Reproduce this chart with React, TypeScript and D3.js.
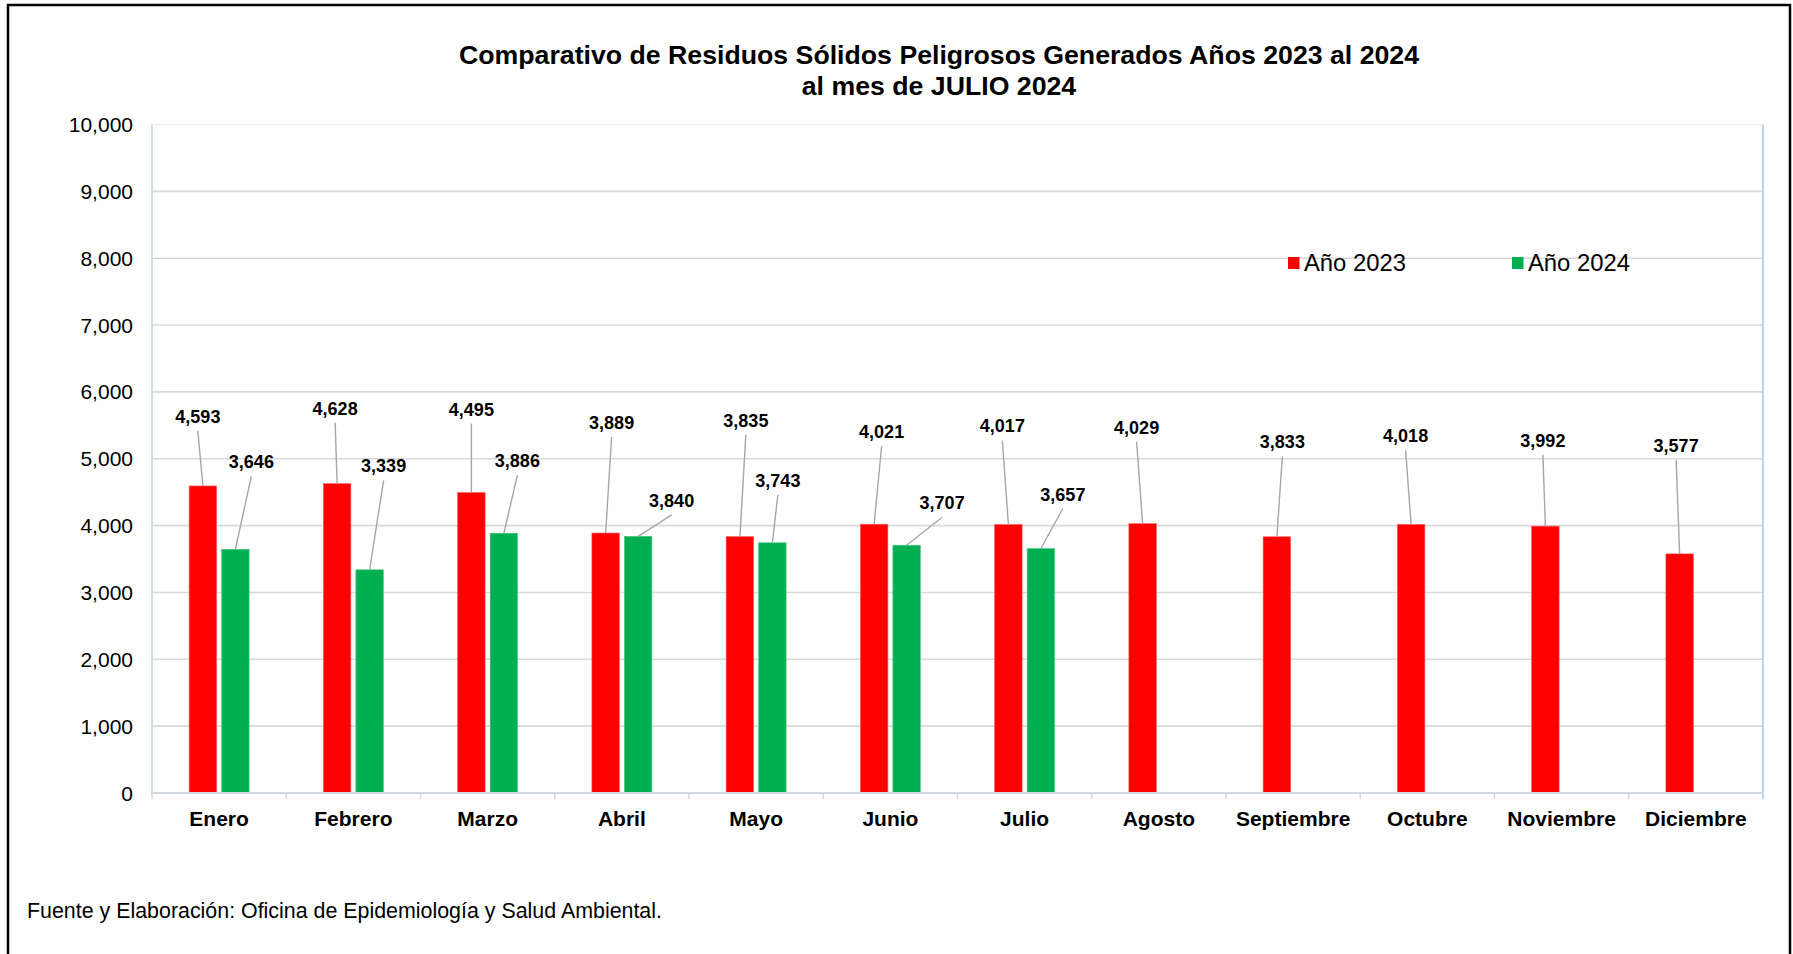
import React from 'react';
import * as d3 from 'd3';

// Data
const months = [
  'Enero', 'Febrero', 'Marzo', 'Abril', 'Mayo', 'Junio',
  'Julio', 'Agosto', 'Septiembre', 'Octubre', 'Noviembre', 'Diciembre',
];
const values2023 = [4593, 4628, 4495, 3889, 3835, 4021, 4017, 4029, 3833, 4018, 3992, 3577];
const values2024 = [3646, 3339, 3886, 3840, 3743, 3707, 3657];
const yTicks = [0, 1000, 2000, 3000, 4000, 5000, 6000, 7000, 8000, 9000, 10000];
const seriesNames = ['Año 2023', 'Año 2024'];

// manual data-label placement (px offset from bar top centre: [dx, dy])
const labelShift2023: [number, number][] = [
  [-5, -63], [-2, -69], [0, -77], [6, -104], [6, -110], [7.5, -86],
  [-6, -92], [-6, -90], [5.5, -88.5], [-5.5, -82], [-2.5, -79.5], [-3.5, -102],
];
const labelShift2024: [number, number][] = [
  [16, -81], [14, -97.5], [13.5, -66], [33.5, -29.5], [5.5, -56], [35.5, -36], [22, -48],
];

const W = 1793;
const H = 954;
const RED = '#ff0000';
const GREEN = '#00b050';
const FONT = '"Liberation Sans", Arial, Helvetica, sans-serif';

export default function App() {
  const left = 152;
  const right = 1763;
  const top = 124.5;
  const bottom = 793;

  const x = d3.scaleBand<string>().domain(months).range([left, right]).paddingInner(0).paddingOuter(0);
  const y = d3.scaleLinear().domain([0, 10000]).range([bottom, top]);
  const fmt = d3.format(',');

  const barW = 27.5;
  const gap = 5;
  const x2023 = (m: string) => (x(m) as number) + x.bandwidth() / 2 - gap / 2 - barW;
  const x2024 = (m: string) => (x(m) as number) + x.bandwidth() / 2 + gap / 2;

  const labels: { tx: number; ty: number; bx: number; by: number; text: string }[] = [];
  values2023.forEach((v, i) => {
    const bx = x2023(months[i]) + barW / 2;
    const by = y(v);
    const [dx, dy] = labelShift2023[i];
    labels.push({ tx: bx + dx, ty: by + dy, bx, by, text: fmt(v) });
  });
  values2024.forEach((v, i) => {
    const bx = x2024(months[i]) + barW / 2;
    const by = y(v);
    const [dx, dy] = labelShift2024[i];
    labels.push({ tx: bx + dx, ty: by + dy, bx, by, text: fmt(v) });
  });

  return (
    <svg
      width={W}
      height={H}
      viewBox={`0 0 ${W} ${H}`}
      style={{ position: 'absolute', left: 0, top: 0, background: '#fff', fontFamily: FONT }}
    >
      <rect x={0} y={0} width={W} height={H} fill="#ffffff" />
      {/* outer frame */}
      <rect x={8} y={5} width={1782} height={980} fill="none" stroke="#000" strokeWidth={2.5} />

      {/* title */}
      <text x={939} y={64} textAnchor="middle" fontSize={26.7} fontWeight="bold" fill="#000">
        Comparativo de Residuos Sólidos Peligrosos Generados Años 2023 al 2024
      </text>
      <text x={939} y={95} textAnchor="middle" fontSize={26.7} fontWeight="bold" fill="#000">
        al mes de JULIO 2024
      </text>

      {/* gridlines */}
      {yTicks.filter(t => t > 0).map(t => (
        <line
          key={`g${t}`}
          x1={left}
          x2={right}
          y1={y(t)}
          y2={y(t)}
          stroke={t === 10000 ? '#eef2f8' : '#d9d9d9'}
          strokeWidth={1.6}
        />
      ))}
      {/* plot side edges */}
      <line x1={left} x2={left} y1={top} y2={bottom} stroke="#c5d5ea" strokeWidth={1.6} />
      <line x1={right} x2={right} y1={top} y2={bottom + 6} stroke="#b9cde6" strokeWidth={1.8} />

      {/* y tick labels */}
      {yTicks.map(t => (
        <text key={`t${t}`} x={133} y={y(t)} dy="0.36em" textAnchor="end" fontSize={21} fill="#000">
          {fmt(t)}
        </text>
      ))}

      {/* bars */}
      {values2023.map((v, i) => (
        <rect
          key={`a${i}`}
          x={x2023(months[i])}
          y={y(v)}
          width={barW}
          height={bottom - y(v)}
          fill={RED}
          stroke="#ff5a5a"
          strokeWidth={0.6}
        />
      ))}
      {values2024.map((v, i) => (
        <rect
          key={`b${i}`}
          x={x2024(months[i])}
          y={y(v)}
          width={barW}
          height={bottom - y(v)}
          fill={GREEN}
          stroke="#4cc885"
          strokeWidth={0.6}
        />
      ))}

      {/* x axis */}
      <line x1={left} x2={right} y1={bottom} y2={bottom} stroke="#d3d7de" strokeWidth={2} />
      {months.map((m, i) => (
        <line
          key={`k${i}`}
          x1={x(m) as number}
          x2={x(m) as number}
          y1={bottom}
          y2={bottom + 6}
          stroke="#d3d7de"
          strokeWidth={1.5}
        />
      ))}
      {months.map(m => (
        <text
          key={`m${m}`}
          x={(x(m) as number) + x.bandwidth() / 2}
          y={826}
          textAnchor="middle"
          fontSize={21}
          fontWeight="bold"
          fill="#000"
        >
          {m}
        </text>
      ))}

      {/* data labels with leader lines */}
      {labels.map((l, i) => (
        <g key={`l${i}`}>
          <line x1={l.tx} y1={l.ty + 8} x2={l.bx} y2={l.by} stroke="#a6a6a6" strokeWidth={1.4} />
          <text x={l.tx} y={l.ty} textAnchor="middle" fontSize={18} fontWeight="bold" fill="#000">
            {l.text}
          </text>
        </g>
      ))}

      {/* legend */}
      {seriesNames.map((s, i) => {
        const lx = i === 0 ? 1288 : 1512;
        return (
          <g key={s}>
            <rect x={lx} y={257} width={11.5} height={12} fill={i === 0 ? RED : GREEN} />
            <text x={lx + 16} y={271} fontSize={23.8} fill="#000">
              {s}
            </text>
          </g>
        );
      })}

      {/* source note */}
      <text x={27} y={918} fontSize={21.4} fill="#000">
        Fuente y Elaboración: Oficina de Epidemiología y Salud Ambiental.
      </text>
    </svg>
  );
}
